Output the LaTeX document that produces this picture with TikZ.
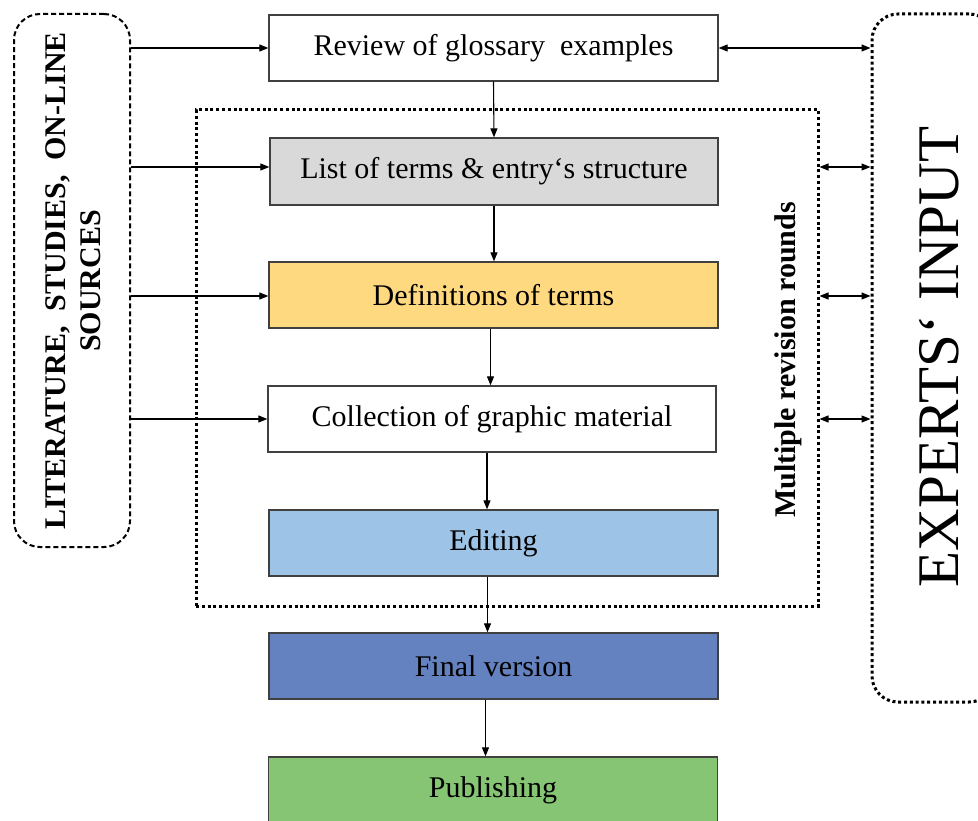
\documentclass[tikz,border=0pt]{standalone}
\usepackage{fontspec}
\setmainfont{Liberation Serif}
\usetikzlibrary{arrows.meta,positioning}
\definecolor{cgray}{HTML}{D9D9D9}
\definecolor{cgold}{HTML}{FFD97F}
\definecolor{clblue}{HTML}{9DC3E6}
\definecolor{cdblue}{HTML}{6582C0}
\definecolor{cgreen}{HTML}{85C573}
\definecolor{cborder}{HTML}{404040}
\tikzset{
  stepbox/.style={draw=cborder, line width=1.3pt, minimum width=449pt, minimum height=66pt, inner sep=0pt, font=\fontsize{30}{34}\selectfont},
  arr/.style={line width=1.1pt, -{Triangle[length=9pt,width=7pt]}},
  darr/.style={line width=1.1pt, {Triangle[length=9pt,width=7pt]}-{Triangle[length=9pt,width=7pt]}},
  dottedframe/.style={line width=3pt, dash pattern=on 3pt off 2.8pt},
}
\begin{document}
\begin{tikzpicture}[x=1pt,y=-1pt]
\useasboundingbox[fill=white] (0,0) rectangle (978,821);
% outer frames
\node[draw, line width=2pt, dash pattern=on 5pt off 3pt, rounded corners=26pt, minimum width=116pt, minimum height=533pt, inner sep=0pt] (lit) at (72,280.5) {};
\node[rotate=90, align=center, font=\bfseries\fontsize{30}{35}\selectfont] (littext) at (73,281) {LITERATURE,\ \ STUDIES,\ \ ON-LINE\\SOURCES};
\node[draw, dottedframe, rounded corners=26pt, minimum width=123pt, minimum height=688pt, inner sep=0pt] (exp) at (933.5,358) {};
\node[rotate=90, font=\fontsize{59}{64}\selectfont] (exptext) at (939,357) {EXPERTS‘ INPUT};
\node[draw, dottedframe, minimum width=622pt, minimum height=496pt, inner sep=0pt] (rnd) at (507,358) {};
\node[rotate=90, font=\bfseries\fontsize{30}{34}\selectfont] (rndtext) at (788,360) {Multiple revision rounds};
% step boxes
\node[stepbox, fill=white] (rev) at (493.5,48) {Review of glossary\ \ examples};
\node[stepbox, fill=cgray, minimum width=448pt, minimum height=67pt] (lst) at (494,171.5) {List of terms \& entry‘s structure};
\node[stepbox, fill=cgold] (dfn) at (493.5,295) {Definitions of terms};
\node[stepbox, fill=white, minimum width=448pt] (col) at (492,419) {Collection of graphic material};
\node[stepbox, fill=clblue] (edt) at (493.5,543) {Editing};
\node[stepbox, fill=cdblue] (fin) at (493.5,666) {Final version};
\node[stepbox, fill=cgreen, minimum height=80pt] (pub) at (493,797) {};
\node[font=\fontsize{30}{34}\selectfont] (pubtext) at (493,790) {Publishing};
% helper coordinates
\coordinate (lstL) at ([yshift=4.5pt]lst.west);
\coordinate (lstR) at ([yshift=4.5pt]lst.east);
\coordinate (dfnL) at ([yshift=-1pt]dfn.west);
\coordinate (dfnR) at ([yshift=-1pt]dfn.east);
% vertical flow
\draw[arr] (rev.south) -- (lst.north);
\draw[arr] (lst.south) -- (lst.south |- dfn.north);
\draw[arr] ([xshift=-3pt]dfn.south) -- ([xshift=-3pt]dfn.south |- col.north);
\draw[arr] ([xshift=-5pt]col.south) -- ([xshift=-5pt]col.south |- edt.north);
\draw[arr] ([xshift=-6pt]edt.south) -- ([xshift=-6pt]edt.south |- fin.north);
\draw[arr] ([xshift=-8pt]fin.south) -- ([xshift=-8pt]fin.south |- pub.north);
% sources arrows
\draw[arr] (lit.east |- rev.west) -- (rev.west);
\draw[arr] (lit.east |- lstL) -- (lstL);
\draw[arr] (lit.east |- dfnL) -- (dfnL);
\draw[arr] (lit.east |- col.west) -- (col.west);
% experts arrows
\draw[darr] (rev.east) -- (exp.west |- rev.east);
\draw[darr] (rnd.east |- lstR) -- (exp.west |- lstR);
\draw[darr] (rnd.east |- dfnR) -- (exp.west |- dfnR);
\draw[darr] (rnd.east |- col.east) -- (exp.west |- col.east);
\end{tikzpicture}
\end{document}
